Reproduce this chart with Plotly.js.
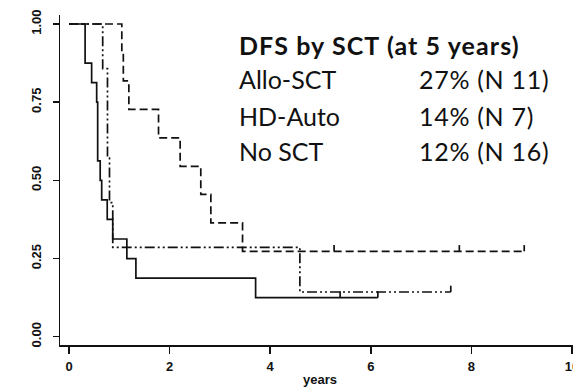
<!DOCTYPE html>
<html>
<head>
<meta charset="utf-8">
<script src="https://cdn.plot.ly/plotly-3.0.1.min.js"></script>
<style>
  html, body { margin: 0; padding: 0; overflow: hidden; background: #fff; }
  #chart { width: 600px; height: 387px; }
</style>
</head>
<body>
<div id="chart"></div>
<script>
// Kaplan-Meier disease-free survival by stem cell transplant type
const alloTimes = [0, 1.05, 1.08, 1.19, 1.78, 2.21, 2.62, 2.82, 3.45, 9.05];
const alloSurv  = [1, 0.909, 0.818, 0.727, 0.636, 0.545, 0.455, 0.364, 0.273, 0.273];
const alloCensor = [5.27, 7.76, 9.05];

const autoTimes = [0, 0.67, 0.765, 0.805, 0.87, 4.59, 7.59];
const autoSurv  = [1, 0.857, 0.571, 0.429, 0.286, 0.143, 0.143];
const autoCensor = [7.59];

const noTimes = [0, 0.32, 0.45, 0.55, 0.57, 0.62, 0.65, 0.76, 0.87, 1.15, 1.33, 3.71, 6.14];
const noSurv  = [1, 0.875, 0.8125, 0.75, 0.5625, 0.5, 0.4375, 0.375, 0.3125, 0.25, 0.1875, 0.125, 0.125];
const noCensor = [5.39, 6.14];

const groupNames = ['Allo-SCT', 'HD-Auto', 'No SCT'];
const groupStats = ['27% (N 11)', '14% (N 7)', '12% (N 16)'];
const legendTitle = 'DFS by SCT (at 5 years)';
const xTicks = [0, 2, 4, 6, 8, 10];
const yTicks = [0, 0.25, 0.5, 0.75, 1];
const yTickText = ['0.00', '0.25', '0.50', '0.75', '1.00'];
const xLabel = 'years';

// plot geometry (pixels)
const W = 600, H = 387;
const M = { l: 60, r: 8, t: 15, b: 42 };
const PW = W - M.l - M.r, PH = H - M.t - M.b;
const px2x = px => (px - M.l) / PW;
const px2y = py => (M.t + PH - py) / PH;

const INK = '#111';
const LW = 1.7;
const TICK_H = 0.02;

// survival value in effect at time t
function survAt(times, surv, t) {
  let s = surv[0];
  for (let i = 0; i < times.length; i++) if (times[i] <= t) s = surv[i];
  return s;
}

function curve(times, surv, dash) {
  return {
    x: times, y: surv, type: 'scatter', mode: 'lines',
    line: { shape: 'hv', color: INK, width: LW, dash: dash },
    hoverinfo: 'skip', showlegend: false
  };
}

// small upward ticks marking censored observations
function censorMarks(times, surv, censor) {
  const xs = [], ys = [];
  censor.forEach(c => {
    const s = survAt(times, surv, c);
    xs.push(c, c, null);
    ys.push(s, s + TICK_H, null);
  });
  return {
    x: xs, y: ys, type: 'scatter', mode: 'lines',
    line: { color: INK, width: LW },
    hoverinfo: 'skip', showlegend: false
  };
}

const dashAllo = '8px,4px';
const dashAuto = '10px,3px,2px,3px,2px,3px';

const data = [
  curve(noTimes, noSurv, 'solid'),
  censorMarks(noTimes, noSurv, noCensor),
  curve(autoTimes, autoSurv, dashAuto),
  censorMarks(autoTimes, autoSurv, autoCensor),
  curve(alloTimes, alloSurv, dashAllo),
  censorMarks(alloTimes, alloSurv, alloCensor)
];

const legFont = { family: 'Lato, "Open Sans", sans-serif', size: 25, color: '#111' };
const rowY = [79, 116, 151];
const annotations = [
  {
    xref: 'paper', yref: 'paper', x: px2x(237), y: px2y(45),
    xanchor: 'left', yanchor: 'middle', showarrow: false,
    text: '<span style="letter-spacing:1.1px"><b>' + legendTitle + '</b></span>', font: legFont
  },
  {
    xref: 'paper', yref: 'paper', x: px2x(320), y: px2y(379),
    xanchor: 'center', yanchor: 'middle', showarrow: false,
    text: '<b>' + xLabel + '</b>',
    font: { family: '"Liberation Sans", Arial, sans-serif', size: 13, color: INK }
  }
];
groupNames.forEach((g, i) => {
  annotations.push({
    xref: 'paper', yref: 'paper', x: px2x(237), y: px2y(rowY[i]),
    xanchor: 'left', yanchor: 'middle', showarrow: false,
    text: g, font: legFont
  });
  annotations.push({
    xref: 'paper', yref: 'paper', x: px2x(417), y: px2y(rowY[i]),
    xanchor: 'left', yanchor: 'middle', showarrow: false,
    text: '<span style="letter-spacing:0.7px">' + groupStats[i] + '</span>', font: legFont
  });
});

const tickFont = { family: '"Liberation Sans", Arial, sans-serif', size: 13, color: INK, weight: 'bold' };

const layout = {
  width: W, height: H,
  margin: M,
  paper_bgcolor: '#fff', plot_bgcolor: '#fff',
  showlegend: false,
  xaxis: {
    range: [-(69 - M.l) / 50.3, -(69 - M.l) / 50.3 + PW / 50.3],
    tickvals: xTicks, ticktext: xTicks.map(String),
    ticks: 'outside', ticklen: 7, tickwidth: 1.5, tickcolor: INK,
    showline: true, linecolor: INK, linewidth: 1.5,
    showgrid: false, zeroline: false, tickfont: tickFont,
    ticklabelstandoff: 2
  },
  yaxis: {
    range: [-0.0265, 1.0288],
    tickvals: yTicks, ticktext: yTickText, tickangle: -90,
    ticks: 'outside', ticklen: 6, tickwidth: 1.5, tickcolor: INK,
    showline: true, linecolor: INK, linewidth: 1.5,
    showgrid: false, zeroline: false, tickfont: tickFont,
    ticklabelstandoff: 6
  },
  annotations: annotations
};

Plotly.newPlot('chart', data, layout, { staticPlot: true, displayModeBar: false });
</script>
</body>
</html>
